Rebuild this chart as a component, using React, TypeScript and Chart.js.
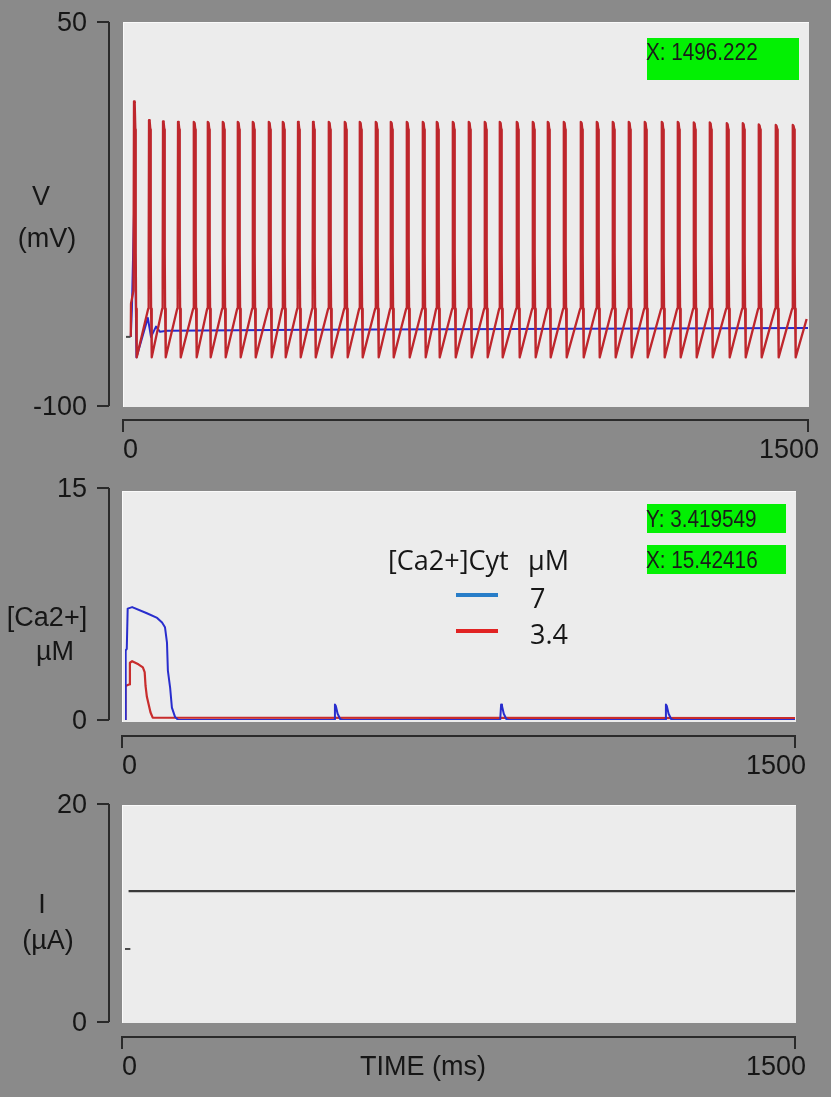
import React, { useEffect, useRef } from "react";
import { Chart, registerables } from "chart.js";

Chart.register(...registerables);

// ---------- data ----------
const TIME_TICKS = [0, 1500];
const V_TICKS = [-100, 50];
const CA_TICKS = [0, 15];
const I_TICKS = [0, 20];

const V_TITLE = ["V", "(mV)"];
const CA_TITLE = ["[Ca2+]", "µM"];
const I_TITLE = ["I", "(µA)"];
const TIME_TITLE = "TIME (ms)";

const SPIKE_TIMES = [
  17.6, 50.6, 81.4, 114.4, 149.5, 180.3, 213.3, 246.3, 279.3, 314.5, 345.3,
  378.3, 411.3, 446.4, 481.6, 514.6, 549.8, 582.8, 618.0, 653.2, 684.0, 719.2,
  754.3, 789.5, 822.5, 859.9, 895.1, 928.1, 963.3, 1000.7, 1035.9, 1071.0,
  1106.2, 1141.4, 1178.8, 1214.0, 1249.2, 1284.4, 1321.8, 1357.0, 1392.1,
  1429.5, 1466.9,
];
const SPIKE_PEAKS = [
  19, 11.7, 11.2, 11, 11, 11, 11, 11, 11, 11, 11, 11, 11, 11, 11, 11, 11, 11,
  11, 11, 11, 11, 11, 11, 11, 11, 11, 11, 11, 11, 11, 11, 11, 11, 11, 11, 10.8,
  10.8, 10.5, 10.5, 10, 9.8, 9.8,
];
const TROUGH_V = -81;
const RAMP_TOP_V = -62;
const SPIKE_BASE_V = -50;
const FALL_V = [8, -40, -62];

const V_BLUE = [
  [10.5, -73], [13, -62], [17.6, -25], [20.5, -45], [23, -81], [48, -65.6],
  [55, -73], [66, -69], [75, -71], [90, -70.6], [400, -70.2], [1000, -69.8],
  [1500, -69.5],
];
const V_INIT_MARK = [[0, -73], [10, -73]];

const CA_BLUE = [
  [0, 0], [1, 1.5], [2, 4.5], [4, 4.6], [6, 7.2], [16, 7.3], [49, 6.9],
  [72, 6.6], [83, 6.3], [89.5, 6.0], [94, 5.0], [96, 3.2], [101, 2.1],
  [105, 0.8], [112, 0.2], [119, 0], [468, 0], [470, 1.0], [472, 0.9],
  [476, 0.4], [482, 0.05], [488, 0], [840, 0], [842, 1.0], [844, 0.9],
  [848, 0.4], [854, 0.05], [860, 0], [1209, 0], [1211, 1.0], [1213, 0.9],
  [1217, 0.4], [1223, 0.05], [1229, 0], [1500, 0],
];
const CA_RED = [
  [0, 0], [1, 2.2], [9, 2.3], [11, 3.7], [16, 3.8], [30, 3.6], [40, 3.4],
  [44, 3.1], [46, 2.2], [49, 1.5], [53, 1.0], [57, 0.5], [62, 0.15],
  [1500, 0.12],
];
const CA_LEGEND_TITLE = ["[Ca2+]Cyt", "µM"];
const CA_LABELS = ["7", "3.4"];

const I_TRACE = [[8, 12], [1500, 12]];
const I_INIT_MARK = [[0, 6.7], [12, 6.7]];

const READOUT_V = ["X: 1496.222"];
const READOUT_CA = ["Y: 3.419549", "X: 15.42416"];

// ---------- styles ----------
const PAGE_BG = "rgb(138,138,138)";
const PLOT_BG = "#ececec";
const INK = "#161616";
const AXIS_FONT = "27px 'Liberation Sans', Arial, sans-serif";
const LEGEND_FONT = "27px 'Open Sans', 'Noto Sans', sans-serif";
const BOX_FONT = "23px 'Liberation Sans', Arial, sans-serif";
const GREEN = "#03f003";

const pts = (arr: number[][]) => arr.map(([x, y]) => ({ x, y }));

function buildVRed() {
  const out: { x: number; y: number }[] = [
    { x: 10.5, y: -73 },
    { x: 11, y: -60 },
    { x: SPIKE_TIMES[0] - 1.2, y: -55 },
  ];
  SPIKE_TIMES.forEach((t, i) => {
    if (i > 0) {
      out.push({ x: t - 1.8, y: RAMP_TOP_V });
      out.push({ x: t - 0.8, y: SPIKE_BASE_V });
    }
    out.push({ x: t, y: SPIKE_PEAKS[i] });
    out.push({ x: t + 1.5, y: SPIKE_PEAKS[i] - 0.5 });
    out.push({ x: t + 3, y: FALL_V[0] });
    out.push({ x: t + 3.8, y: FALL_V[1] });
    out.push({ x: t + 4.6, y: FALL_V[2] });
    out.push({ x: t + 6, y: TROUGH_V });
  });
  out.push({ x: 1497, y: -66 });
  return out;
}

type Spec = {
  top: number;
  height: number;
  padding: { left: number; right: number; top: number; bottom: number };
  yTicks: number[];
  bgTop: number;
  bgBottom: number;
  yAxisX: number;
  xAxisGap: number;
  titles: { text: string; x: number; y: number }[];
  datasets: any[];
  extra?: (ctx: CanvasRenderingContext2D, chart: any) => void;
};

function drawBox(ctx: CanvasRenderingContext2D, x: number, y: number, w: number, h: number, text: string, base: number) {
  ctx.fillStyle = GREEN;
  ctx.fillRect(x, y, w, h);
  ctx.save();
  ctx.font = BOX_FONT;
  ctx.fillStyle = "#1a1a1a";
  ctx.textAlign = "left";
  ctx.textBaseline = "alphabetic";
  ctx.translate(x - 1, base);
  ctx.scale(0.9, 1);
  ctx.fillText(text, 0, 0);
  ctx.restore();
}

const decorPlugin = (spec: Spec) => ({
  id: "decor",
  beforeDraw(chart: any) {
    const { ctx, chartArea: a } = chart;
    ctx.save();
    ctx.fillStyle = PLOT_BG;
    const l = a.left - 3, t = a.top + spec.bgTop, r = a.right + 1, b = a.bottom + spec.bgBottom;
    ctx.fillRect(l, t, r - l, b - t);
    ctx.fillStyle = "#fafafa";
    ctx.fillRect(l, t, r - l, 1);
    ctx.fillRect(l, t, 1, b - t);
    ctx.restore();
  },
  afterDraw(chart: any) {
    const { ctx, chartArea: a, scales } = chart;
    const x = scales.x, y = scales.y;
    ctx.save();
    ctx.strokeStyle = "#2a2a2a";
    ctx.lineWidth = 2;
    // y bracket
    const yPix = spec.yTicks.map((v) => y.getPixelForValue(v));
    ctx.beginPath();
    ctx.moveTo(spec.yAxisX, Math.min(...yPix));
    ctx.lineTo(spec.yAxisX, Math.max(...yPix));
    yPix.forEach((p) => {
      ctx.moveTo(spec.yAxisX - 12, p);
      ctx.lineTo(spec.yAxisX, p);
    });
    // x bracket
    const xAxisY = a.bottom + spec.xAxisGap;
    const x0 = x.getPixelForValue(TIME_TICKS[0]) - 3;
    const x1 = x.getPixelForValue(TIME_TICKS[1]);
    ctx.moveTo(x0, xAxisY + 12);
    ctx.lineTo(x0, xAxisY);
    ctx.lineTo(x1, xAxisY);
    ctx.lineTo(x1, xAxisY + 12);
    ctx.stroke();

    ctx.fillStyle = INK;
    ctx.font = AXIS_FONT;
    ctx.textBaseline = "middle";
    ctx.textAlign = "right";
    spec.yTicks.forEach((v, i) => ctx.fillText(String(v), spec.yAxisX - 22, yPix[i] + 2));
    ctx.textBaseline = "alphabetic";
    ctx.textAlign = "left";
    ctx.fillText(String(TIME_TICKS[0]), x0, xAxisY + 38);
    ctx.textAlign = "right";
    ctx.fillText(String(TIME_TICKS[1]), x1 + 11, xAxisY + 38);

    ctx.textAlign = "center";
    ctx.textBaseline = "middle";
    spec.titles.forEach((tt) => ctx.fillText(tt.text, tt.x, tt.y));
    if (spec.extra) spec.extra(ctx, chart);
    ctx.restore();
  },
});

const lineDs = (data: any[], color: string, width: number) => ({
  data,
  borderColor: color,
  backgroundColor: color,
  borderWidth: width,
  borderJoinStyle: "round",
  pointRadius: 0,
  showLine: true,
  fill: false,
  tension: 0,
});

const specs: Spec[] = [
  {
    top: 0,
    height: 470,
    padding: { left: 126, right: 23, top: 22, bottom: 64 },
    yTicks: V_TICKS,
    bgTop: 0,
    bgBottom: 1,
    yAxisX: 109,
    xAxisGap: 14,
    titles: [
      { text: V_TITLE[0], x: 41, y: 198 },
      { text: V_TITLE[1], x: 47, y: 240 },
    ],
    datasets: [
      lineDs(pts(V_INIT_MARK), "#4a4a4a", 2),
      lineDs(buildVRed(), "rgb(190,38,44)", 2.3),
      lineDs(pts(V_BLUE), "rgb(40,40,205)", 2),
    ],
    extra: (ctx) => {
      drawBox(ctx, 647, 38, 152, 42, READOUT_V[0], 60);
    },
  },
  {
    top: 470,
    height: 315,
    padding: { left: 125, right: 36, top: 18, bottom: 65 },
    yTicks: CA_TICKS,
    bgTop: 3,
    bgBottom: 2,
    yAxisX: 109,
    xAxisGap: 16,
    titles: [
      { text: CA_TITLE[0], x: 47, y: 149 },
      { text: CA_TITLE[1], x: 55, y: 183 },
    ],
    datasets: [
      { ...lineDs(pts(CA_BLUE), "rgb(40,45,205)", 2), label: CA_LABELS[0] },
      { ...lineDs(pts(CA_RED), "rgb(200,45,45)", 2.2), label: CA_LABELS[1] },
    ],
    extra: (ctx) => {
      drawBox(ctx, 647, 34, 139, 29, READOUT_CA[0], 57);
      drawBox(ctx, 647, 75, 139, 29, READOUT_CA[1], 98);
      ctx.font = LEGEND_FONT;
      ctx.fillStyle = INK;
      ctx.textAlign = "left";
      ctx.textBaseline = "alphabetic";
      ctx.fillText(CA_LEGEND_TITLE[0], 388, 100);
      ctx.fillText(CA_LEGEND_TITLE[1], 528, 100);
      const legendColors = ["rgb(40,125,200)", "rgb(225,35,35)"];
      const ys = [125, 161];
      CA_LABELS.forEach((lab, i) => {
        ctx.fillStyle = legendColors[i];
        ctx.fillRect(456, ys[i] - 2, 42, 4);
        ctx.fillStyle = INK;
        ctx.fillText(lab, 530, ys[i] + 13);
      });
    },
  },
  {
    top: 785,
    height: 312,
    padding: { left: 125, right: 36, top: 19, bottom: 75 },
    yTicks: I_TICKS,
    bgTop: 1,
    bgBottom: 1,
    yAxisX: 109,
    xAxisGap: 15,
    titles: [
      { text: I_TITLE[0], x: 42, y: 121 },
      { text: I_TITLE[1], x: 48, y: 157 },
    ],
    datasets: [
      lineDs(pts(I_INIT_MARK), "#4a4a4a", 2),
      lineDs(pts(I_TRACE), "#3a3a3a", 2.2),
    ],
    extra: (ctx, chart) => {
      const xAxisY = chart.chartArea.bottom + 15;
      ctx.font = AXIS_FONT;
      ctx.textAlign = "left";
      ctx.textBaseline = "alphabetic";
      ctx.fillText(TIME_TITLE, 360, xAxisY + 38);
    },
  },
];

function Panel({ spec }: { spec: Spec }) {
  const ref = useRef<HTMLCanvasElement>(null);
  useEffect(() => {
    const chart = new Chart(ref.current as HTMLCanvasElement, {
      type: "scatter",
      data: { datasets: spec.datasets },
      options: {
        animation: false,
        responsive: false,
        maintainAspectRatio: false,
        devicePixelRatio: 1,
        layout: { padding: spec.padding },
        plugins: { legend: { display: false }, tooltip: { enabled: false } },
        events: [],
        scales: {
          x: { type: "linear", display: false, min: TIME_TICKS[0], max: TIME_TICKS[1] },
          y: {
            type: "linear",
            display: false,
            min: Math.min(...spec.yTicks),
            max: Math.max(...spec.yTicks),
          },
        },
      } as any,
      plugins: [decorPlugin(spec)],
    });
    return () => chart.destroy();
  }, [spec]);
  return (
    <canvas
      ref={ref}
      width={831}
      height={spec.height}
      style={{ position: "absolute", left: 0, top: spec.top, width: 831, height: spec.height }}
    />
  );
}

export default function App() {
  return (
    <div
      style={{
        position: "absolute",
        left: 0,
        top: 0,
        width: 831,
        height: 1097,
        background: PAGE_BG,
        overflow: "hidden",
      }}
    >
      {specs.map((s, i) => (
        <Panel key={i} spec={s} />
      ))}
    </div>
  );
}
